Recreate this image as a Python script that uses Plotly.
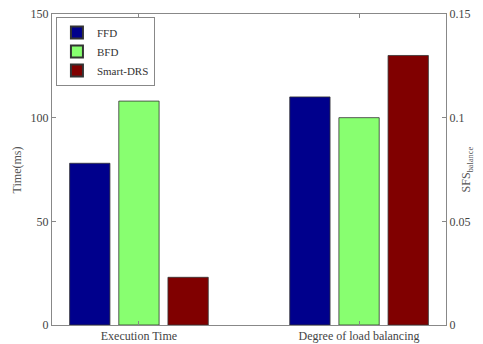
import plotly.graph_objects as go

categories = ["Execution Time", "Degree of load balancing"]
series = ["FFD", "BFD", "Smart-DRS"]
exec_time = [78, 108, 23]          # Time (ms), left axis
load_balance = [0.11, 0.10, 0.13]  # SFS_balance, right axis
colors = ["#00008c", "#88ff70", "#800000"]
y_ticks = [0, 50, 100, 150]
y2_ticks = [0, 0.05, 0.1, 0.15]
y2_ticklabels = ["0", "0.05", "0.1", "0.15"]

font = "Liberation Serif, Times New Roman, serif"
grey = "#555555"

fig = go.Figure()
for i, name in enumerate(series):
    fig.add_trace(go.Bar(
        x=[categories[0]], y=[exec_time[i]], name=name, legendgroup=name,
        offsetgroup=name, marker=dict(color=colors[i], line=dict(color="#333333", width=0.8)),
        yaxis="y", showlegend=True))
for i, name in enumerate(series):
    fig.add_trace(go.Bar(
        x=[categories[1]], y=[load_balance[i]], name=name, legendgroup=name,
        offsetgroup=name, marker=dict(color=colors[i], line=dict(color="#333333", width=0.8)),
        yaxis="y2", showlegend=False))

fig.update_layout(
    width=475, height=336,
    margin=dict(l=44, r=37, t=6, b=19, autoexpand=False),
    paper_bgcolor="white", plot_bgcolor="white",
    barmode="group", bargap=0.33, bargroupgap=0.18,
    font=dict(family=font, color=grey, size=12),
    xaxis=dict(type="category", categoryorder="array", categoryarray=categories,
               range=[-0.395, 1.395], showline=True, linecolor="#888888", linewidth=1,
               mirror="ticks", ticks="inside", ticklen=4, tickcolor="#888888",
               tickfont=dict(size=12, color="#444444"), showgrid=False, zeroline=False,
               automargin=False),
    yaxis=dict(range=[0, 150], tickvals=y_ticks, showline=True, linecolor="#888888",
               linewidth=1, ticks="inside", ticklen=4, tickcolor="#888888",
               showgrid=False, zeroline=False, tickfont=dict(size=12, color="#444444"),
               automargin=False, ticklabeloverflow="allow"),
    yaxis2=dict(range=[0, 0.15], tickvals=y2_ticks, ticktext=y2_ticklabels,
                overlaying="y", side="right", showline=True, linecolor="#888888",
                linewidth=1, ticks="inside", ticklen=4, tickcolor="#888888",
                showgrid=False, zeroline=False, tickfont=dict(size=12, color="#444444"),
                automargin=False, ticklabeloverflow="allow"),
    legend=dict(x=0.01, y=0.99, xanchor="left", yanchor="top",
                bgcolor="white", bordercolor="#888888", borderwidth=1,
                font=dict(size=11, color="#333333"), tracegroupgap=0,
                itemsizing="constant"),
    showlegend=True,
    annotations=[
        dict(text="Time(ms)", xref="paper", yref="paper", x=-0.089, y=0.5,
             xanchor="center", yanchor="middle", textangle=-90, showarrow=False,
             font=dict(size=12, color=grey)),
        dict(text="SFS<sub>balance</sub>", xref="paper", yref="paper", x=1.053, y=0.5,
             xanchor="center", yanchor="middle", textangle=-90, showarrow=False,
             font=dict(size=12, color=grey)),
    ],
)

fig.write_html("out.html")
